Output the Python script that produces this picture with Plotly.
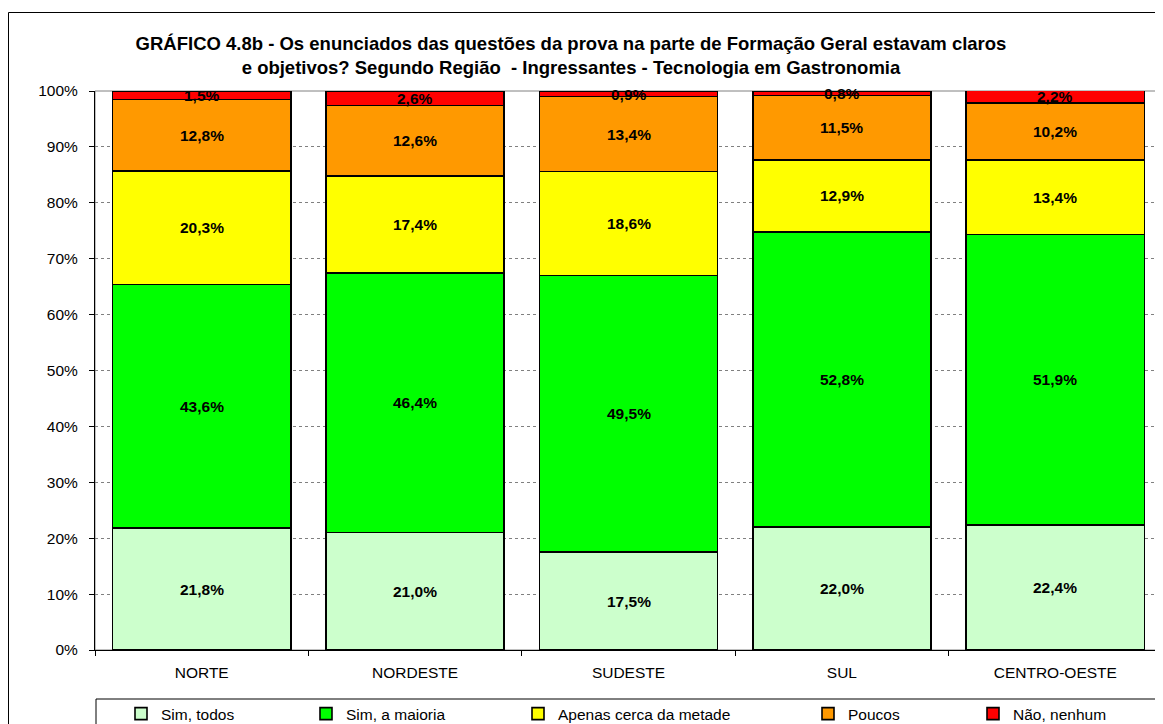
import plotly.graph_objects as go
import numpy as np

regions = ["NORTE", "NORDESTE", "SUDESTE", "SUL", "CENTRO-OESTE"]
series_names = ["Sim, todos", "Sim, a maioria", "Apenas cerca da metade", "Poucos", "Não, nenhum"]
sim_todos = [21.8, 21.0, 17.5, 22.0, 22.4]
sim_maioria = [43.6, 46.4, 49.5, 52.8, 51.9]
apenas_metade = [20.3, 17.4, 18.6, 12.9, 13.4]
poucos = [12.8, 12.6, 13.4, 11.5, 10.2]
nao_nenhum = [1.5, 2.6, 0.9, 0.8, 2.2]
colors = ["#CCFFCC", "#00FF00", "#FFFF00", "#FF9900", "#FF0000"]
ytick_vals = [0, 10, 20, 30, 40, 50, 60, 70, 80, 90, 100]
ytick_text = ["0%", "10%", "20%", "30%", "40%", "50%", "60%", "70%", "80%", "90%", "100%"]

series = [sim_todos, sim_maioria, apenas_metade, poucos, nao_nenhum]

# page has an 8px body margin; work in page pixel coordinates
OFF = 8
W, H = 1163 - OFF, 724 - OFF
PL, PR, PT, PB = 95, 1162, 91, 650  # plot area in page pixels
L = PL - OFF
T = PT - OFF
R = W - (PR - OFF)
B = H - (PB - OFF)
pw = PR - PL
ph = PB - PT


def px_x(x):
    return (x - PL) / pw


def px_y(y):
    return (PB - y) / ph


def cont_y(y):
    return 1 - (y - OFF) / H


FONT = "Arial, Liberation Sans, sans-serif"

fig = go.Figure()
legend_names = ["legend", "legend2", "legend3", "legend4", "legend5"]
for name, vals, col, lg in zip(series_names, series, colors, legend_names):
    fig.add_trace(go.Bar(
        x=regions, y=vals, name=name, legend=lg,
        marker=dict(color=col, line=dict(color="black", width=1.6)),
        hoverinfo="skip",
    ))

# data labels
cum = np.zeros(len(regions))
for vals in series:
    v = np.array(vals)
    mids = cum + v / 2
    for r, val, m in zip(regions, vals, mids):
        fig.add_annotation(
            x=r, y=m, text=f"{val:.1f}%".replace(".", ","), showarrow=False,
            font=dict(family=FONT, size=15.5, color="black", weight="bold"),
        )
    cum += v

# legends positioned individually (page x of the reference text start)
legend_text_px = [160, 345, 557, 847, 1012]
legend_layout = {}
for lg, xp in zip(legend_names, legend_text_px):
    legend_layout[lg] = dict(
        x=(xp - 39 - OFF) / W, y=cont_y(714), xanchor="left", yanchor="middle",
        xref="container", yref="container",
        font=dict(family=FONT, size=15.5, color="black"),
        bgcolor="rgba(0,0,0,0)", borderwidth=0, itemwidth=30,
        orientation="h",
    )

fig.update_layout(
    width=W, height=H,
    margin=dict(l=L, r=R, t=T, b=B, autoexpand=False),
    paper_bgcolor="white", plot_bgcolor="white",
    barmode="stack", bargap=0.165,
    showlegend=True,
    title=dict(
        text="GRÁFICO 4.8b - Os enunciados das questões da prova na parte de Formação Geral estavam claros<br>e objetivos? Segundo Região  - Ingressantes - Tecnologia em Gastronomia",
        x=(571 - OFF) / W, xanchor="center", xref="container",
        y=cont_y(50), yanchor="middle", yref="container",
        font=dict(family=FONT, size=18.5, color="black", weight="bold"),
    ),
    font=dict(family=FONT, size=15.5, color="black"),
    xaxis=dict(
        showgrid=False, showline=True, linecolor="black", linewidth=1,
        ticks="outside", ticklen=5, tickcolor="black", tickson="boundaries",
        tickfont=dict(family=FONT, size=15.5, color="black"),
        ticklabelstandoff=8,
    ),
    yaxis=dict(
        range=[0, 100], tickvals=ytick_vals, ticktext=ytick_text,
        showgrid=True, gridcolor="#808080", griddash="dot", gridwidth=1,
        showline=True, linecolor="black", linewidth=1,
        ticks="outside", ticklen=5, tickcolor="black",
        tickfont=dict(family=FONT, size=15.5, color="black"),
        ticklabelstandoff=8, zeroline=False,
    ),
    **legend_layout,
)

# plot area border (gray)
fig.add_shape(type="rect", xref="paper", yref="paper", x0=0, x1=1, y0=0, y1=1,
              line=dict(color="#808080", width=1), layer="below")
# outer chart border
fig.add_shape(type="rect", xref="paper", yref="paper",
              x0=px_x(8.5), x1=px_x(1300), y0=px_y(800), y1=px_y(12.5),
              line=dict(color="black", width=1))
# legend box
fig.add_shape(type="rect", xref="paper", yref="paper",
              x0=px_x(96), x1=px_x(1160), y0=px_y(760), y1=px_y(699),
              line=dict(color="black", width=1))

fig.write_html("out.html")
